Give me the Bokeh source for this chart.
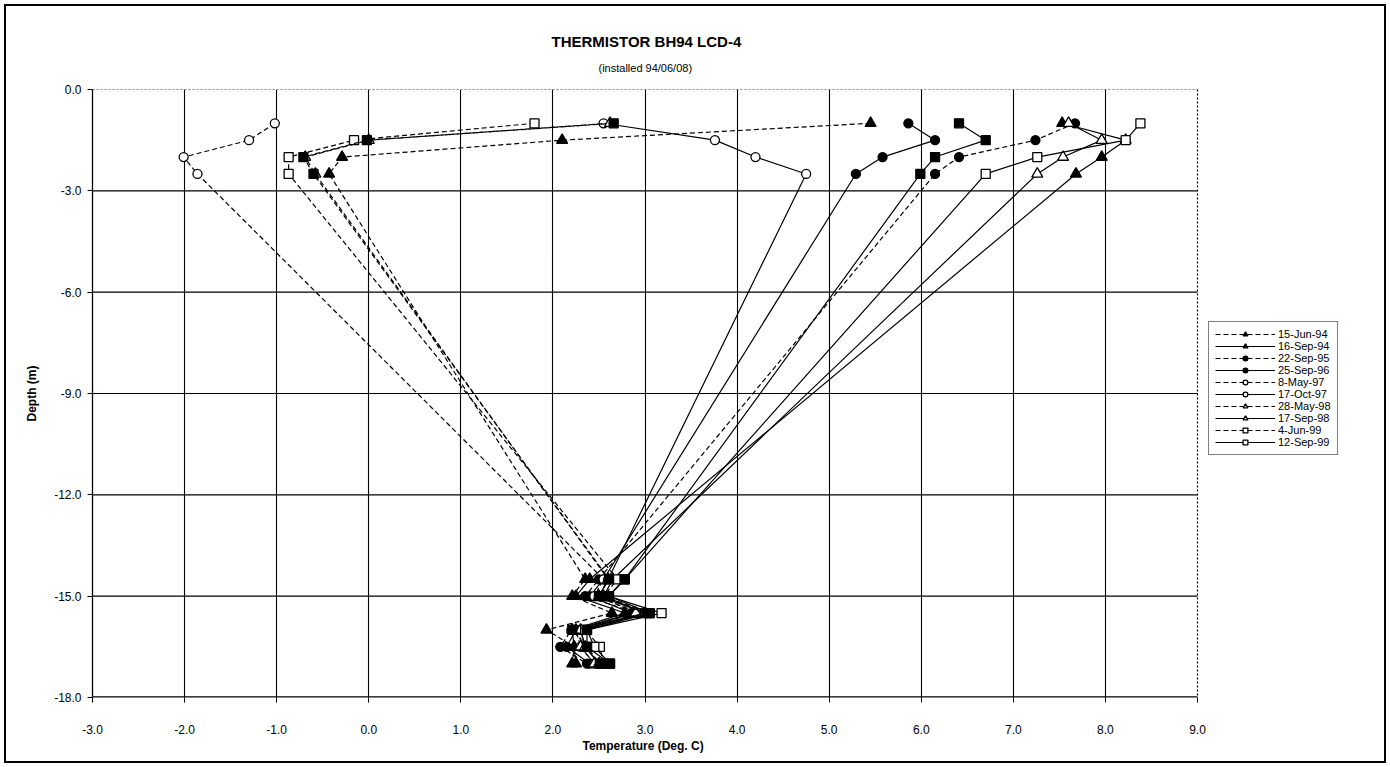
from bokeh.plotting import figure
from bokeh.models import (FixedTicker, NumeralTickFormatter, Legend, LegendItem,
                          Title, ColumnDataSource, Range1d)
from bokeh.embed import file_html
from bokeh.resources import INLINE

# ---------------- data ----------------
depths = [-1.0, -1.5, -2.0, -2.5, -14.5, -15.0, -15.5, -16.0, -16.5, -17.0]

names = ["15-Jun-94", "16-Sep-94", "22-Sep-95", "25-Sep-96", "8-May-97",
         "17-Oct-97", "28-May-98", "17-Sep-98", "4-Jun-99", "12-Sep-99"]

t_15jun94 = [5.45, 2.10, -0.29, -0.43, 2.35, 2.21, 2.64, 1.93, 2.23, 2.21]
t_16sep94 = [7.53, 8.22, 7.96, 7.68, 2.40, 2.25, 2.78, 2.21, 2.23, 2.25]
t_22sep95 = [7.67, 7.24, 6.41, 6.15, 2.50, 2.35, 2.91, 2.20, 2.08, 2.37]
t_25sep96 = [5.86, 6.15, 5.58, 5.29, 2.55, 2.40, 2.85, 2.25, 2.15, 2.40]
t_08may97 = [-1.02, -1.30, -2.01, -1.86, 2.55, 2.45, 2.95, 2.30, 2.30, 2.45]
t_17oct97 = [2.55, 3.76, 4.20, 4.75, 2.60, 2.50, 3.00, 2.30, 2.35, 2.50]
t_28may98 = [2.62, 0.00, -0.69, -0.58, 2.60, 2.50, 2.90, 2.25, 2.30, 2.45]
t_17sep98 = [7.60, 7.96, 7.54, 7.26, 2.65, 2.55, 3.00, 2.30, 2.35, 2.50]
t_04jun99 = [1.80, -0.16, -0.87, -0.87, 2.70, 2.55, 3.05, 2.35, 2.51, 2.55]
t_12sep99 = [8.38, 8.22, 7.26, 6.70, 2.78, 2.60, 3.18, 2.37, 2.45, 2.62]
# two further profiles drawn with filled squares (not listed in the legend)
t_extra_a = [2.66, -0.02, -0.71, -0.60, 2.61, 2.50, 3.02, 2.21, 2.37, 2.51]
t_extra_b = [6.41, 6.70, 6.15, 5.99, 2.78, 2.61, 3.05, 2.37, 2.37, 2.62]

x_ticks = [-3, -2, -1, 0, 1, 2, 3, 4, 5, 6, 7, 8, 9]
y_ticks = [0, -3, -6, -9, -12, -15, -18]

X_MIN, X_MAX = x_ticks[0], x_ticks[-1]
Y_MIN, Y_MAX = y_ticks[-1], y_ticks[0]

FONT = "Liberation Sans"

# the frame runs on to the right so that the legend can sit beside the plot area
PX_PER_UNIT = 1105 / 12.0
FRAME_LEFT, FRAME_RIGHT = 92, 1380
x_end = X_MIN + (FRAME_RIGHT - FRAME_LEFT) / PX_PER_UNIT

p = figure(width=1390, height=767, x_range=Range1d(X_MIN, x_end),
           y_range=Range1d(Y_MIN, Y_MAX),
           output_backend="svg", toolbar_location=None,
           min_border_left=FRAME_LEFT, min_border_right=1390 - FRAME_RIGHT,
           min_border_top=89, min_border_bottom=70,
           background_fill_color="white",
           border_fill_color="white", border_fill_alpha=0)
p.outline_line_color = None

# outer frame of the page
p.styles = {"box-shadow": "inset 0 0 0 4px white, inset 0 0 0 6px black",
            "background-color": "white"}

# titles (left-aligned with offsets so that they centre over the plot area)
p.add_layout(Title(text="(installed 94/06/08)", align="left", text_font=FONT,
                   text_font_size="11px", text_font_style="normal",
                   text_color="black", standoff=32, offset=506), "above")
p.add_layout(Title(text="THERMISTOR BH94 LCD-4", align="left", text_font=FONT,
                   text_font_size="15px", text_font_style="bold",
                   text_color="black", standoff=-12, offset=459), "above")
p.add_layout(Title(text="Temperature (Deg. C)", align="left", text_font=FONT,
                   text_font_size="12px", text_font_style="bold",
                   text_color="black", offset=490, standoff=0), "below")

# axes
for ax in (p.xaxis[0], p.yaxis[0]):
    ax.major_tick_line_color = "black"
    ax.major_tick_out = 5
    ax.major_tick_in = 0
    ax.minor_tick_line_color = None
    ax.major_label_text_font = FONT
    ax.major_label_text_font_size = "12px"
    ax.major_label_text_color = "black"
    ax.axis_label_text_font = FONT
    ax.axis_label_text_font_size = "12px"
    ax.axis_label_text_font_style = "bold"
    ax.axis_label_text_color = "black"
    ax.formatter = NumeralTickFormatter(format="0.0")

p.yaxis.axis_line_color = "black"
p.yaxis.axis_line_width = 1.3
p.xaxis.axis_line_color = None
p.xaxis.ticker = FixedTicker(ticks=x_ticks)
p.yaxis.ticker = FixedTicker(ticks=y_ticks)
p.yaxis.axis_label = "Depth (m)"
p.xaxis.major_label_standoff = 22
p.yaxis.major_label_standoff = 6
p.yaxis.axis_label_standoff = 12

# grid: vertical lines from the library grid, horizontal lines limited to the plot area
p.xgrid.ticker = FixedTicker(ticks=x_ticks[1:-1])
p.xgrid.grid_line_color = "black"
p.xgrid.grid_line_width = 1.1
p.ygrid.visible = False
inner_y = y_ticks[1:-1]
p.segment(x0=[X_MIN] * len(inner_y), x1=[X_MAX] * len(inner_y), y0=inner_y, y1=inner_y,
          line_color="black", line_width=1.1)
# bottom axis line
p.segment(x0=[X_MIN], x1=[X_MAX], y0=[Y_MIN], y1=[Y_MIN], line_color="black", line_width=2.6)
# dotted top and right borders of the plot area
p.segment(x0=[X_MIN, X_MAX], x1=[X_MAX, X_MAX], y0=[Y_MAX, Y_MAX], y1=[Y_MAX, Y_MIN],
          line_color="black", line_width=1.2, line_dash="2 2")

DASH = "5 3"
series = [
    (names[0], t_15jun94, DASH, "triangle", True),
    (names[1], t_16sep94, "solid", "triangle", True),
    (names[2], t_22sep95, DASH, "circle", True),
    (names[3], t_25sep96, "solid", "circle", True),
    (names[4], t_08may97, DASH, "circle", False),
    (names[5], t_17oct97, "solid", "circle", False),
    (names[6], t_28may98, DASH, "triangle", False),
    (names[7], t_17sep98, "solid", "triangle", False),
    (names[8], t_04jun99, DASH, "square", False),
    (names[9], t_12sep99, "solid", "square", False),
    (None, t_extra_a, DASH, "square", True),
    (None, t_extra_b, "solid", "square", True),
]

sizes = {"triangle": 11, "circle": 9, "square": 9}
items = []
for name, temps, dash, marker, filled in series:
    src = ColumnDataSource(dict(x=temps, y=depths))
    lr = p.line("x", "y", source=src, line_color="black", line_width=1.2,
                line_dash=dash)
    mr = p.scatter("x", "y", source=src, marker=marker, size=sizes[marker],
                   line_color="black", line_width=1.3,
                   fill_color="black" if filled else "white")
    if name is not None:
        items.append(LegendItem(label=name, renderers=[lr, mr]))

legend = Legend(items=items, location=(1116, 242), label_text_font=FONT,
                label_text_font_size="11px", label_text_color="black",
                label_height=12, glyph_height=12, glyph_width=60,
                label_standoff=3, spacing=0, padding=6, margin=0,
                border_line_color="black", border_line_width=1,
                background_fill_color="white", background_fill_alpha=1)
p.add_layout(legend)

open("out.html", "w").write(file_html(p, INLINE))
